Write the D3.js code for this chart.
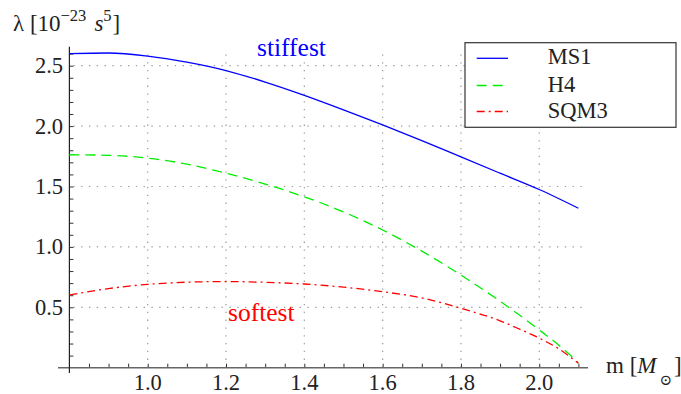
<!DOCTYPE html>
<html><head><meta charset="utf-8">
<script src="https://cdn.jsdelivr.net/npm/d3@7"></script>
<style>body{margin:0;background:#fff}svg{display:block}</style>
</head><body><svg id="c" width="681" height="394" font-family="'Liberation Serif', 'DejaVu Serif', serif"></svg>
<script>
const massMS1 = [0.8,0.9,1.0,1.1,1.2,1.3,1.4,1.5,1.6,1.7,1.8,1.9,2.0,2.1];
const lambdaMS1 = [2.60,2.605,2.58,2.53,2.46,2.365,2.255,2.135,2.01,1.88,1.745,1.61,1.475,1.32];
const massH4 = [0.8,0.9,1.0,1.1,1.2,1.3,1.4,1.5,1.6,1.7,1.8,1.9,2.0,2.05,2.1];
const lambdaH4 = [1.763,1.758,1.735,1.685,1.61,1.52,1.415,1.29,1.14,0.965,0.767,0.55,0.313,0.186,0.042];
const massSQM3 = [0.8,0.9,1.0,1.1,1.2,1.3,1.4,1.5,1.6,1.7,1.8,1.9,1.95,2.0,2.05,2.1];
const lambdaSQM3 = [0.602,0.655,0.69,0.708,0.713,0.707,0.693,0.667,0.629,0.578,0.492,0.388,0.319,0.245,0.156,0.036];
const seriesNames = ["MS1","H4","SQM3"];
const xTicks = [1.0,1.2,1.4,1.6,1.8,2.0];
const yTicks = [0.5,1.0,1.5,2.0,2.5];

const svg = d3.select("#c");
svg.append("rect").attr("width",681).attr("height",394).attr("fill","#fff");
const x = d3.scaleLinear().domain([0.8,2.1]).range([69.4,578.4]);
const y = d3.scaleLinear().domain([0,2.5]).range([367.7,65.7]);

// grid
const grid = svg.append("g").attr("stroke","#999").attr("stroke-width",1.2).attr("stroke-dasharray","1.3,6.5");
xTicks.forEach(t=>grid.append("line").attr("x1",x(t)).attr("x2",x(t)).attr("y1",y(0)).attr("y2",53));
yTicks.forEach(t=>grid.append("line").attr("x1",x(0.8)+4).attr("x2",588).attr("y1",y(t)).attr("y2",y(t)));

// axes
const xAxis = d3.axisBottom(x).tickValues(d3.range(0.85,2.101,0.05)).tickSize(-4).tickFormat("");
const gx = svg.append("g").attr("transform",`translate(0,${y(0)})`).call(xAxis);
gx.select(".domain").remove();
gx.selectAll(".tick line").attr("stroke","#333").attr("stroke-width",1);
const yAxis = d3.axisLeft(y).tickValues(d3.range(0.1,2.61,0.1)).tickSize(-4).tickFormat("");
const gy = svg.append("g").attr("transform",`translate(${x(0.8)},0)`).call(yAxis);
gy.select(".domain").remove();
gy.selectAll(".tick line").attr("stroke","#333").attr("stroke-width",1);
svg.append("line").attr("x1",58).attr("x2",588).attr("y1",y(0)).attr("y2",y(0)).attr("stroke","#666").attr("stroke-width",1.6);
svg.append("line").attr("x1",x(0.8)).attr("x2",x(0.8)).attr("y1",46.7).attr("y2",373).attr("stroke","#222").attr("stroke-width",1.2);

// tick labels
svg.append("g").selectAll("text").data(xTicks).join("text")
  .attr("x",d=>x(d)).attr("y",390).attr("text-anchor","middle").attr("font-size",22.5).attr("fill","#222")
  .text(d=>d3.format(".1f")(d));
svg.append("g").selectAll("text").data(yTicks).join("text")
  .attr("x",63).attr("y",d=>y(d)).attr("dy","0.33em").attr("text-anchor","end").attr("font-size",22.5).attr("fill","#222")
  .text(d=>d3.format(".1f")(d));

// curves
const line = d3.line().x(d=>x(d[0])).y(d=>y(d[1])).curve(d3.curveMonotoneX);
const data = [
  {m:massMS1,l:lambdaMS1,c:"#0000ff",dash:null},
  {m:massH4,l:lambdaH4,c:"#00ee00",dash:"10,6"},
  {m:massSQM3,l:lambdaSQM3,c:"#ff0000",dash:"8,4,2,4"}
];
data.forEach(s=>{
  svg.append("path").attr("d",line(s.m.map((v,i)=>[v,s.l[i]]))).attr("fill","none")
    .attr("stroke",s.c).attr("stroke-width",1.3).attr("stroke-dasharray",s.dash);
});

// annotations
svg.append("text").attr("x",257).attr("y",56).attr("font-size",25.5).attr("fill","#0000ff").text("stiffest");
svg.append("text").attr("x",228).attr("y",321).attr("font-size",25.5).attr("fill","#ff0000").text("softest");

// axis labels
const yl = svg.append("text").attr("x",13).attr("y",31).attr("font-size",23).attr("fill","#222");
yl.append("tspan").text("λ [10");
yl.append("tspan").attr("font-size",16.5).attr("dy",-10).text("−23");
yl.append("tspan").attr("dy",10).attr("dx",8).attr("font-style","italic").text("s");
yl.append("tspan").attr("font-size",16.5).attr("dy",-10).text("5");
yl.append("tspan").attr("dy",10).attr("dx",1).text("]");
const xl = svg.append("text").attr("x",606).attr("y",373).attr("font-size",23).attr("fill","#222");
xl.append("tspan").text("m [");
xl.append("tspan").attr("font-style","italic").text("M");
xl.append("tspan").attr("font-size",15).attr("dy",12).attr("dx",3).text("⊙");
xl.append("tspan").attr("dy",-12).attr("dx",2).text("]");

// legend
const lg = svg.append("g");
lg.append("rect").attr("x",465).attr("y",42.7).attr("width",211).attr("height",84.6).attr("fill","#fff").attr("stroke","#333").attr("stroke-width",1.2);
const ly = [58.3,85.5,111.5];
seriesNames.forEach((n,i)=>{
  lg.append("line").attr("x1",476.7).attr("x2",508).attr("y1",ly[i]).attr("y2",ly[i])
    .attr("stroke",data[i].c).attr("stroke-width",1.3).attr("stroke-dasharray",data[i].dash);
  lg.append("text").attr("x",547.7).attr("y",ly[i]+6).attr("font-size",22.5).attr("fill","#222").text(n);
});
</script></body></html>
